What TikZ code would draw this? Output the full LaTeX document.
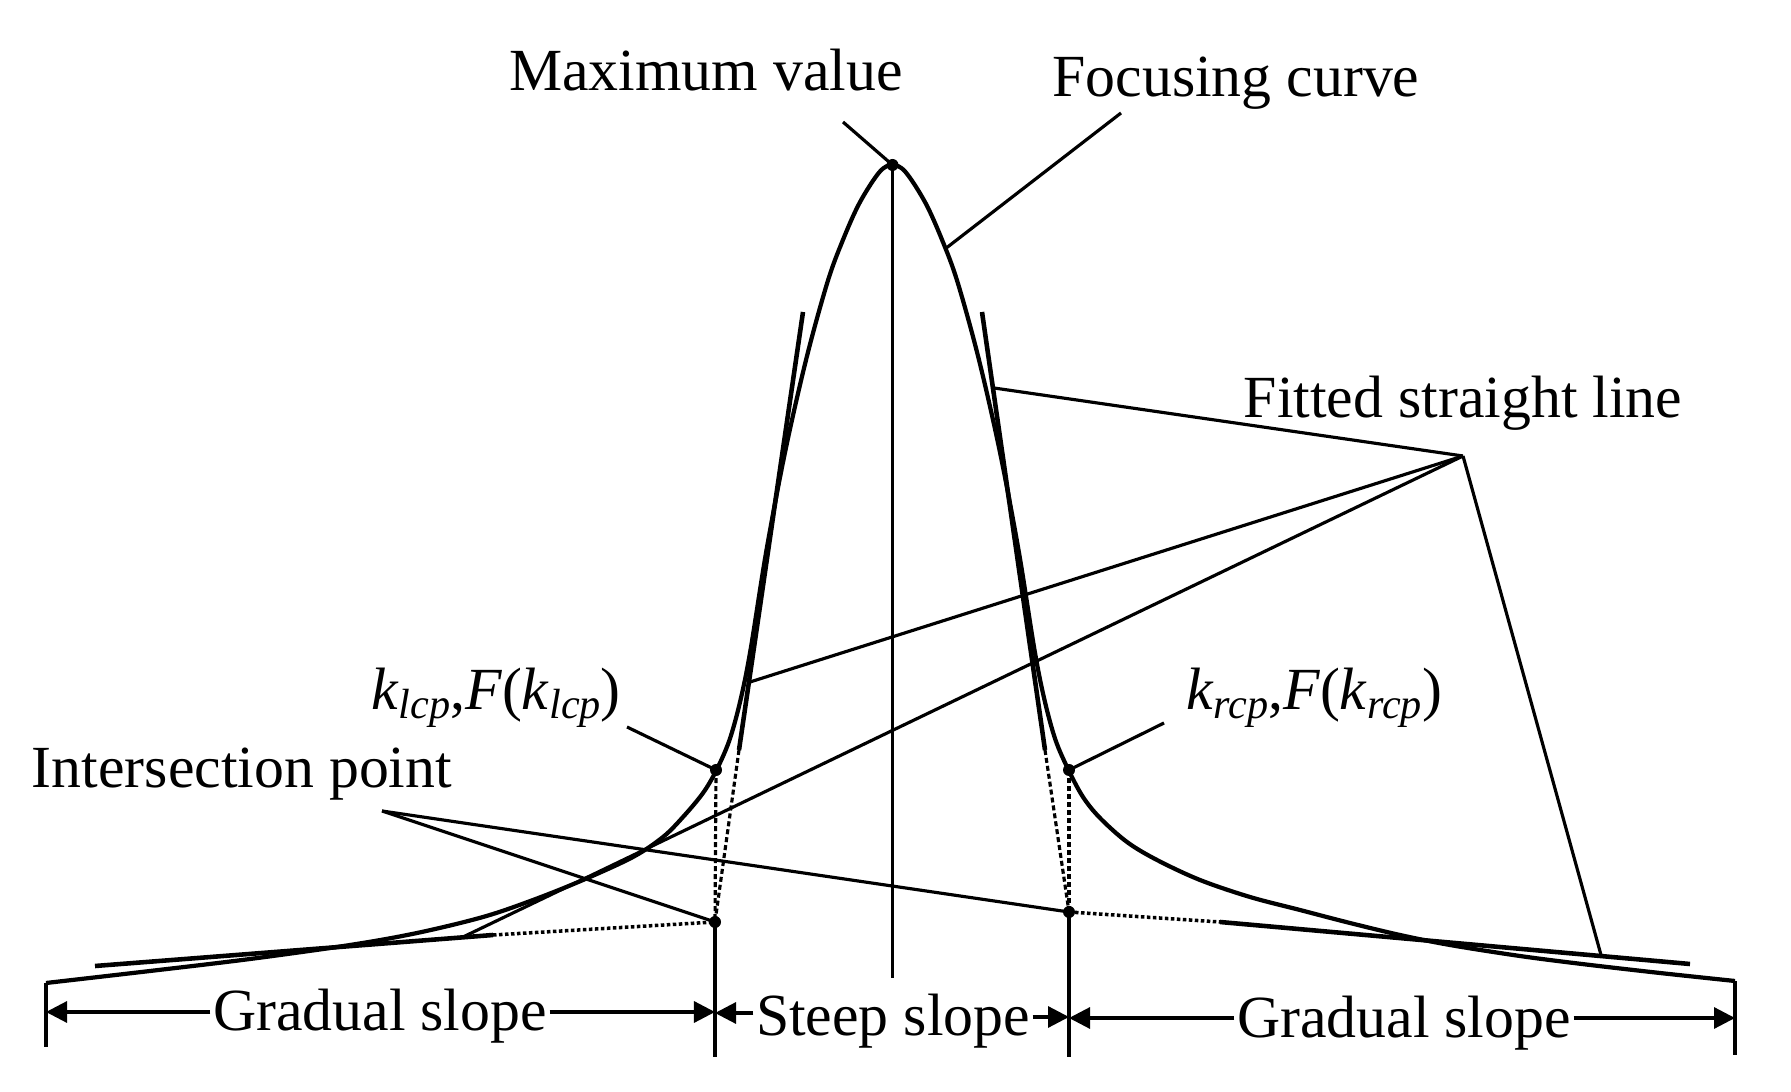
\documentclass[tikz,border=0pt]{standalone}
\usepackage{fontspec}
\setmainfont{Liberation Serif}
\usetikzlibrary{arrows.meta}
\newcommand\lsub[1]{\raisebox{-0.14em}{\fontsize{12}{12}\selectfont\itshape #1}}
\begin{document}
\begin{tikzpicture}[x=0.01cm,y=-0.01cm,
  lbl/.style={font=\fontsize{17}{20}\selectfont, inner sep=0.02cm},
  curve/.style={line width=1.2pt, line join=round},
  fitl/.style={line width=1.3pt},
  lead/.style={line width=0.9pt},
  bound/.style={line width=0.9pt},
  dashd/.style={line width=0.9pt, dash pattern=on 0.05cm off 0.03cm},
  dotd/.style={line width=1pt, dash pattern=on 0.035cm off 0.025cm},
  arr/.style={line width=0.9pt, -{Triangle[length=0.21cm,width=0.21cm]}},
  dot/.style={circle, fill, inner sep=0pt, minimum size=0.12cm}]
\fill[white] (0,0) rectangle (1791,1092);
\useasboundingbox (0,0) rectangle (1791,1092);

% focusing curve
\draw[curve] plot[smooth, tension=0.55] coordinates {(46,983) (150,971) (250,959) (350,945) (417,933) (483,917) (533,900) (583,880) (633,857) (663,837) (683,817) (703,793) (716.5,770) (729.5,740) (740.5,700) (750.5,650) (766.5,550) (785.5,450) (806.5,358) (827.5,282) (842.5,241) (859.5,203) (879.5,172) (892.5,165) (905.5,172) (925.5,203) (942.5,241) (957.5,282) (978.5,358) (999.5,450) (1018.5,550) (1034.5,650) (1044.5,700) (1055.5,740) (1068.5,770) (1083,797) (1100,818) (1127,842) (1157,860) (1200,880) (1250,897) (1300,910) (1350,923) (1400,935) (1450,945) (1520,956) (1582,964) (1660,973) (1735,981)};

% key points
\node[dot] (peak) at (892.5,165) {};
\node[dot] (klcp) at (716,770) {};
\node[dot] (krcp) at (1069,770) {};
\node[dot] (ipL) at (715,922) {};
\node[dot] (ipR) at (1069,912) {};

% fitted straight lines
\coordinate (lsTop) at (803,312);
\coordinate (lsEnd) at (739,750);
\coordinate (rsTop) at (982,312);
\coordinate (rsEnd) at (1045,750);
\coordinate (lgA) at (95,966);
\coordinate (lgB) at (493,935);
\coordinate (rgA) at (1220,922);
\coordinate (rgB) at (1690,964);
\draw[fitl] (lsTop) -- (lsEnd);
\draw[fitl] (rsTop) -- (rsEnd);
\draw[fitl] (lgA) -- (lgB);
\draw[fitl] (rgA) -- (rgB);
\draw[dashd] (lsEnd) -- (ipL.center);
\draw[dashd] (rsEnd) -- (ipR.center);
\draw[dashd] (klcp.center) -- (ipL.center);
\draw[dashd] (krcp.center) -- (ipR.center);
\draw[dotd] (lgB) -- (ipL.center);
\draw[dotd] (ipR.center) -- (rgA);

% boundaries
\coordinate (cBot) at (892.5,978);
\coordinate (fLtop) at (46,983);
\coordinate (fLbot) at (46,1047);
\coordinate (lBot) at (715,1057);
\coordinate (rBot) at (1069,1057);
\coordinate (fRtop) at (1735,981);
\coordinate (fRbot) at (1735,1055);
\draw[bound] (peak.center) -- (cBot);
\draw[bound] (fLtop) -- (fLbot);
\draw[bound] (ipL.center) -- (lBot);
\draw[bound] (ipR.center) -- (rBot);
\draw[bound] (fRtop) -- (fRbot);

% labels
\node[lbl, anchor=base] (maxv) at (706,91) {Maximum value};
\node[lbl, anchor=base] (focus) at (1236,97) {Focusing curve};
\node[lbl, anchor=base] (fitted) at (1463,418) {Fitted straight line};
\node[lbl, anchor=base] (lklab) at (496,710) {\textit{k}\lsub{lcp},\textit{F}(\textit{k}\lsub{lcp})};
\node[lbl, anchor=base] (rklab) at (1314,710) {\textit{k}\lsub{rcp},\textit{F}(\textit{k}\lsub{rcp})};
\node[lbl, anchor=base] (inter) at (242,788) {Intersection point};
\node[lbl, anchor=base] (gl) at (380,1031) {Gradual slope};
\node[lbl, anchor=base] (ss) at (893,1035) {Steep slope};
\node[lbl, anchor=base] (gr) at (1404,1037) {Gradual slope};

% leaders
\coordinate (mvL) at (843,122);
\coordinate (fcL) at (1121,113);
\coordinate (fcC) at (945,249);
\coordinate (apex) at (1463,456);
\coordinate (apR) at (994,388);
\coordinate (apL) at (750,682);
\coordinate (apG) at (463,937);
\coordinate (apRG) at (1601,955);
\coordinate (ipt) at (382,811);
\coordinate (klL) at (627,727);
\coordinate (krL) at (1164,723);
\draw[lead] (mvL) -- (peak.center);
\draw[lead] (fcL) -- (fcC);
\draw[lead] (apex) -- (apR);
\draw[lead] (apex) -- (apL);
\draw[lead] (apex) -- (apG);
\draw[lead] (apex) -- (apRG);
\draw[lead] (ipt) -- (ipL.center);
\draw[lead] (ipt) -- (ipR.center);
\draw[lead] (klL) -- (klcp.center);
\draw[lead] (krL) -- (krcp.center);

% dimension arrows
\coordinate (aL1) at (46,1012);
\coordinate (aL2) at (715,1012);
\coordinate (aS1) at (715,1013);
\coordinate (aS2) at (1069,1017);
\coordinate (aR1) at (1069,1018);
\coordinate (aR2) at (1735,1018);
\draw[arr] (gl.west |- aL1) -- (aL1);
\draw[arr] (gl.east |- aL2) -- (aL2);
\draw[arr] (ss.west |- aS1) -- (aS1);
\draw[arr] (ss.east |- aS2) -- (aS2);
\draw[arr] (gr.west |- aR1) -- (aR1);
\draw[arr] (gr.east |- aR2) -- (aR2);
\end{tikzpicture}
\end{document}
